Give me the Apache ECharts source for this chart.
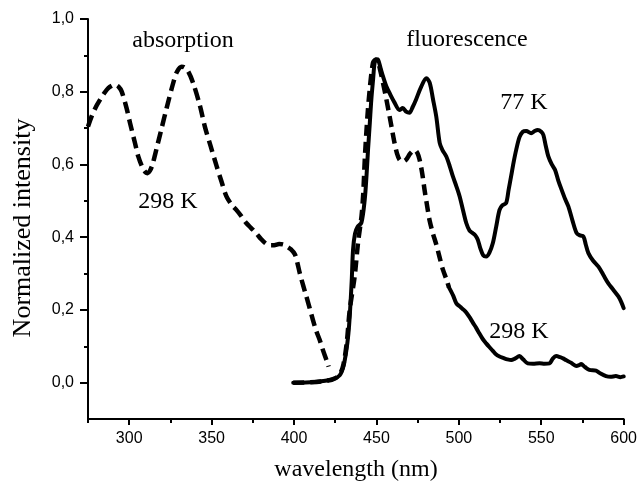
<!DOCTYPE html>
<html><head><meta charset="utf-8">
<script src="https://cdn.jsdelivr.net/npm/echarts@6/dist/echarts.min.js"></script>
<style>html,body{margin:0;padding:0;background:#fff}#c{width:640px;height:481px}</style>
</head><body><div id="c"></div>
<script>
const xMajorTicks = [300, 350, 400, 450, 500, 550, 600];
const xMinorTicks = [275, 325, 375, 425, 475, 525, 575];
const yMajorTicks = [0, 0.2, 0.4, 0.6, 0.8, 1.0];
const yMinorTicks = [0.1, 0.3, 0.5, 0.7, 0.9];

const absorption298 = [[275,0.704],[277.2,0.732],[280,0.760],[282.3,0.778],[285,0.797],[287.3,0.810],[290,0.818],[291.4,0.819],[293.5,0.814],[295.4,0.801],[298.4,0.755],[300.5,0.714],[303.5,0.659],[305.5,0.622],[308,0.592],[310,0.578],[311.2,0.576],[312.5,0.582],[314,0.598],[315.6,0.625],[317.5,0.660],[319.7,0.700],[322.7,0.755],[326.7,0.824],[329,0.855],[331.8,0.869],[333.5,0.867],[335.8,0.856],[338.8,0.824],[342.9,0.762],[345.9,0.704],[349.5,0.649],[353,0.596],[356,0.553],[359,0.512],[362,0.490],[365,0.475],[368,0.458],[371,0.439],[374,0.425],[377,0.411],[380,0.395],[382.5,0.384],[385,0.378],[388,0.378],[391,0.381],[393.5,0.380],[395.5,0.375],[398,0.367],[400.5,0.353],[402,0.330],[403.5,0.301],[405.5,0.268],[407.5,0.237],[409.5,0.205],[411.5,0.172],[413.5,0.142],[415.6,0.117],[417.5,0.090],[419.7,0.062],[421,0.044]];

const fluor298Dashed = [[399.5,0.0],[410,0.001],[420,0.005],[425,0.012],[428,0.025],[430,0.05],[432,0.11],[433.8,0.2],[436.8,0.292],[438.8,0.383],[441,0.46],[442,0.52],[443,0.62],[444.5,0.73],[445.9,0.805],[447.9,0.879],[449.5,0.888],[451,0.880],[452.5,0.855],[454,0.824],[456,0.780],[458,0.732],[459.5,0.695],[461,0.659],[462.5,0.630],[464,0.613],[466,0.608],[468,0.613],[470.5,0.630],[473.2,0.640],[474.8,0.632],[476.2,0.613],[477.8,0.575],[479.2,0.530],[480.8,0.485],[482.3,0.445],[484.3,0.410],[486.3,0.380],[488.3,0.345],[490.4,0.310],[492.4,0.285],[494,0.262]];

const fluor298Solid = [[494,0.262],[496.5,0.240],[498.5,0.218],[501,0.208],[503,0.200],[504.5,0.193],[506.5,0.180],[508.5,0.165],[510.6,0.150],[512.5,0.135],[514.5,0.120],[516.6,0.108],[518.5,0.098],[520.5,0.088],[522.5,0.078],[524.7,0.072],[527,0.068],[529.5,0.064],[531.8,0.062],[534,0.066],[536.8,0.073],[539,0.064],[541.8,0.053],[545,0.052],[549,0.053],[552,0.052],[555,0.053],[557,0.066],[559,0.073],[561.5,0.070],[563.5,0.066],[565,0.062],[568,0.055],[571.2,0.046],[573,0.048],[574.2,0.051],[576.5,0.043],[579.2,0.035],[583.2,0.033],[586,0.025],[589.3,0.018],[592,0.016],[595.3,0.018],[598,0.015],[600,0.017]];

const fluor77 = [[399.5,0.0],[405,0.0],[410,0.001],[415,0.003],[420,0.006],[424,0.010],[427.7,0.020],[430,0.045],[431.8,0.090],[433,0.135],[433.8,0.182],[435,0.280],[435.8,0.365],[437,0.410],[438.5,0.428],[440.9,0.440],[442.9,0.503],[444,0.570],[444.9,0.640],[446,0.715],[446.9,0.778],[448,0.835],[448.9,0.879],[450,0.889],[451,0.888],[452.5,0.865],[454,0.842],[456,0.815],[458,0.796],[461,0.770],[464,0.750],[466,0.755],[468,0.745],[470,0.742],[472,0.758],[474,0.778],[477,0.812],[480.3,0.837],[482.3,0.825],[484.3,0.780],[486.3,0.732],[488.4,0.659],[490,0.640],[492.4,0.622],[494.5,0.595],[496.4,0.567],[498.5,0.540],[500.5,0.512],[502.5,0.475],[504.5,0.439],[506.5,0.418],[508.5,0.411],[510,0.405],[511.5,0.393],[513,0.370],[514.8,0.350],[516.6,0.347],[518.5,0.357],[520.6,0.383],[522.7,0.430],[524.7,0.475],[526.5,0.488],[528.7,0.494],[530.2,0.530],[531.7,0.567],[533.2,0.605],[534.8,0.640],[536.8,0.675],[538.8,0.690],[540.9,0.692],[543.9,0.686],[546,0.692],[547.9,0.695],[550,0.690],[551.3,0.681],[552.8,0.650],[554.3,0.622],[556.4,0.600],[558.4,0.585],[560.4,0.555],[562.4,0.530],[564.5,0.505],[566.5,0.484],[569,0.445],[571.5,0.411],[573.5,0.405],[575.6,0.402],[577,0.380],[578.6,0.356],[581.5,0.335],[584.7,0.319],[587.7,0.296],[590.7,0.273],[593.8,0.255],[596.8,0.237],[598.5,0.222],[600,0.205]];

const serif = 'Liberation Serif, Times New Roman, serif';
const sans = 'Liberation Sans, Arial, sans-serif';
const fmtY = v => v.toFixed(1).replace('.', ',');

const chart = echarts.init(document.getElementById('c'), null, {renderer: 'canvas'});
const lineBase = {type: 'line', showSymbol: false, symbol: 'none', smooth: 0.3, animation: false, xAxisIndex: 0, yAxisIndex: 0};
const axCommon = {min: 275, max: 600, type: 'value', splitLine: {show: false}};
chart.setOption({
  animation: false,
  backgroundColor: '#fff',
  grid: {left: 88, right: 14, top: 19, bottom: 62},
  xAxis: [
    Object.assign({}, axCommon, {
      position: 'bottom',
      axisLine: {onZero: false, lineStyle: {color: '#000', width: 2}},
      axisTick: {show: true, inside: false, length: 6, lineStyle: {color: '#000', width: 2}, customValues: xMajorTicks},
      axisLabel: {show: true, margin: 12, color: '#000', fontFamily: sans, fontSize: 16, customValues: xMajorTicks}
    }),
    Object.assign({}, axCommon, {
      position: 'bottom',
      axisLine: {show: false, onZero: false},
      axisTick: {show: true, inside: false, length: 4, lineStyle: {color: '#000', width: 2}, customValues: xMinorTicks},
      axisLabel: {show: false}
    })
  ],
  yAxis: [
    {
      type: 'value', min: -0.1, max: 1.0, position: 'left', splitLine: {show: false},
      axisLine: {show: true, onZero: false, lineStyle: {color: '#000', width: 2}},
      axisTick: {show: true, inside: false, length: 8, lineStyle: {color: '#000', width: 2}, customValues: yMajorTicks},
      axisLabel: {show: true, margin: 14, color: '#000', fontFamily: sans, fontSize: 16, formatter: fmtY, customValues: yMajorTicks}
    },
    {
      type: 'value', min: -0.1, max: 1.0, position: 'left', splitLine: {show: false},
      axisLine: {show: false, onZero: false},
      axisTick: {show: true, inside: false, length: 4, lineStyle: {color: '#000', width: 2}, customValues: yMinorTicks},
      axisLabel: {show: false}
    }
  ],
  series: [
    Object.assign({}, lineBase, {name: 'absorption 298 K', data: absorption298, lineStyle: {color: '#000', width: 4.5, type: [12, 6], cap: 'butt', join: 'round'}}),
    Object.assign({}, lineBase, {name: 'fluorescence 298 K', data: fluor298Dashed, lineStyle: {color: '#000', width: 4.5, type: [11, 6], cap: 'butt', join: 'round'}}),
    Object.assign({}, lineBase, {name: 'fluorescence 298 K tail', data: fluor298Solid, lineStyle: {color: '#000', width: 4, type: 'solid', cap: 'round', join: 'round'}}),
    Object.assign({}, lineBase, {name: 'fluorescence 77 K', data: fluor77, lineStyle: {color: '#000', width: 4, type: 'solid', cap: 'round', join: 'round'}})
  ],
  graphic: [
    {type: 'text', x: 356, y: 470, style: {text: 'wavelength (nm)', font: '24px ' + serif, fill: '#000', align: 'center', verticalAlign: 'middle'}},
    {type: 'text', x: 23, y: 228, rotation: Math.PI / 2, style: {text: 'Normalized intensity', font: '26px ' + serif, fill: '#000', align: 'center', verticalAlign: 'middle'}},
    {type: 'text', x: 183, y: 41, style: {text: 'absorption', font: '24px ' + serif, fill: '#000', align: 'center', verticalAlign: 'middle'}},
    {type: 'text', x: 467, y: 40, style: {text: 'fluorescence', font: '24px ' + serif, fill: '#000', align: 'center', verticalAlign: 'middle'}},
    {type: 'text', x: 168, y: 202, style: {text: '298 K', font: '24px ' + serif, fill: '#000', align: 'center', verticalAlign: 'middle'}},
    {type: 'text', x: 524, y: 103, style: {text: '77 K', font: '24px ' + serif, fill: '#000', align: 'center', verticalAlign: 'middle'}},
    {type: 'text', x: 519, y: 332, style: {text: '298 K', font: '24px ' + serif, fill: '#000', align: 'center', verticalAlign: 'middle'}}
  ]
});
</script>
</body></html>
